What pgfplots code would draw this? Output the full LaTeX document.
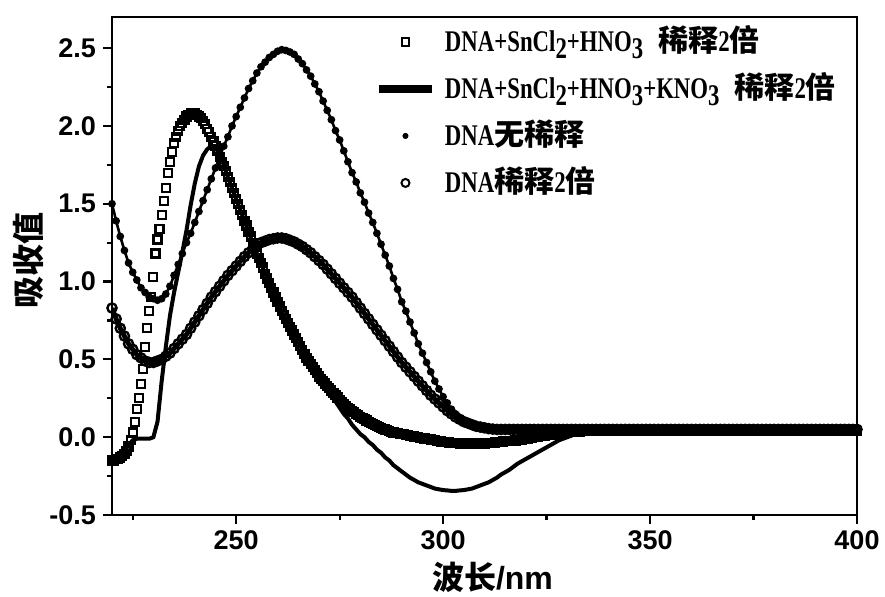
\documentclass[border=0pt]{standalone}
\usepackage{pgfplots}
\pgfplotsset{compat=1.18}
\usepackage{pgfplotstable}
\usepackage{fontspec}
\setmainfont{Liberation Sans}
\newfontfamily\cjk{Noto Sans CJK SC}
\newfontfamily\legfont[FakeStretch=0.76]{Liberation Serif}
\newcommand{\sub}[1]{\raisebox{-0.22em}{#1}}

\pgfplotsset{
  markleg/.style={legend image code/.code={\path (0bp,0bp) (26.5bp,0bp); \path[##1] plot[only marks] coordinates {(13.25bp,0bp)};}},
  lineleg/.style={legend image code/.code={\draw[##1] (0bp,0bp) -- (26.5bp,0bp);}},
}

\pgfplotstableread{
x sq so dn dc
220 -0.15 -0.15 1.50 0.83
221 -0.14 -0.14 1.39 0.76
222 -0.13 -0.12 1.29 0.70
223 -0.11 -0.09 1.20 0.65
224 -0.06 -0.05 1.12 0.60
225 0.03 -0.02 1.06 0.565
226 0.18 -0.01 1.01 0.53
227 0.34 -0.01 0.96 0.51
228 0.58 -0.01 0.93 0.49
229 0.81 -0.01 0.90 0.48
230 1.03 0.00 0.89 0.48
231 1.27 0.10 0.88 0.49
232 1.43 0.36 0.89 0.50
233 1.60 0.58 0.92 0.52
234 1.77 0.78 0.97 0.54
235 1.89 0.93 1.04 0.57
236 1.97 1.06 1.11 0.60
237 2.02 1.19 1.18 0.63
238 2.06 1.33 1.25 0.66
239 2.08 1.49 1.31 0.70
240 2.08 1.63 1.38 0.74
241 2.06 1.74 1.45 0.78
242 2.03 1.81 1.52 0.82
243 1.98 1.85 1.59 0.86
244 1.93 1.87 1.66 0.90
245 1.87 1.86 1.73 0.935
246 1.80 1.82 1.80 0.97
247 1.74 1.75 1.87 1.005
248 1.67 1.67 1.93 1.04
249 1.60 1.60 2.00 1.07
250 1.53 1.53 2.06 1.10
251 1.46 1.46 2.12 1.13
252 1.39 1.39 2.18 1.16
253 1.32 1.32 2.24 1.185
254 1.25 1.25 2.29 1.21
255 1.18 1.18 2.34 1.23
256 1.12 1.12 2.38 1.25
257 1.05 1.05 2.41 1.26
258 0.99 0.99 2.44 1.27
259 0.93 0.93 2.46 1.275
260 0.87 0.87 2.48 1.28
261 0.81 0.81 2.49 1.28
262 0.76 0.76 2.485 1.275
263 0.71 0.71 2.475 1.265
264 0.66 0.66 2.46 1.255
265 0.61 0.61 2.43 1.24
266 0.56 0.56 2.40 1.225
267 0.51 0.51 2.36 1.205
268 0.47 0.47 2.32 1.185
269 0.43 0.43 2.27 1.16
270 0.39 0.39 2.22 1.135
271 0.36 0.35 2.16 1.11
272 0.33 0.31 2.10 1.08
273 0.30 0.27 2.04 1.05
274 0.27 0.23 1.97 1.02
275 0.24 0.19 1.91 0.99
276 0.21 0.15 1.84 0.96
277 0.19 0.12 1.77 0.93
278 0.17 0.08 1.70 0.90
279 0.15 0.05 1.64 0.865
280 0.13 0.02 1.57 0.83
281 0.115 0.00 1.51 0.795
282 0.10 -0.03 1.44 0.76
283 0.085 -0.05 1.38 0.725
284 0.07 -0.08 1.31 0.69
285 0.06 -0.10 1.24 0.655
286 0.05 -0.13 1.17 0.62
287 0.04 -0.15 1.10 0.585
288 0.03 -0.18 1.02 0.55
289 0.025 -0.20 0.95 0.515
290 0.02 -0.22 0.87 0.48
291 0.015 -0.24 0.81 0.45
292 0.01 -0.26 0.74 0.42
293 0.005 -0.275 0.67 0.39
294 0.00 -0.29 0.60 0.36
295 -0.005 -0.30 0.54 0.33
296 -0.01 -0.31 0.48 0.30
297 -0.015 -0.32 0.42 0.27
298 -0.02 -0.33 0.36 0.245
299 -0.025 -0.335 0.31 0.22
300 -0.03 -0.34 0.26 0.195
301 -0.032 -0.342 0.22 0.17
302 -0.035 -0.345 0.18 0.15
303 -0.037 -0.345 0.15 0.13
304 -0.04 -0.342 0.12 0.115
305 -0.04 -0.34 0.10 0.10
306 -0.04 -0.335 0.085 0.09
307 -0.04 -0.33 0.075 0.08
308 -0.04 -0.32 0.065 0.07
309 -0.04 -0.31 0.06 0.065
310 -0.04 -0.30 0.055 0.06
311 -0.038 -0.29 0.052 0.055
312 -0.035 -0.275 0.05 0.052
313 -0.032 -0.26 0.05 0.05
314 -0.03 -0.24 0.05 0.05
315 -0.027 -0.225 0.05 0.05
316 -0.025 -0.21 0.05 0.05
317 -0.022 -0.19 0.05 0.05
318 -0.02 -0.17 0.05 0.05
319 -0.015 -0.155 0.05 0.05
320 -0.01 -0.14 0.05 0.05
321 -0.005 -0.125 0.05 0.05
322 0.00 -0.11 0.05 0.05
323 0.005 -0.095 0.05 0.05
324 0.01 -0.08 0.05 0.05
325 0.012 -0.065 0.05 0.05
326 0.015 -0.05 0.05 0.05
327 0.018 -0.035 0.05 0.05
328 0.02 -0.02 0.05 0.05
329 0.025 -0.01 0.05 0.05
330 0.03 0.00 0.05 0.05
331 0.032 0.01 0.05 0.05
332 0.035 0.02 0.05 0.05
333 0.037 0.03 0.05 0.05
334 0.04 0.035 0.05 0.05
335 0.04 0.04 0.05 0.05
336 0.04 0.045 0.05 0.05
337 0.04 0.045 0.05 0.05
338 0.04 0.045 0.05 0.05
339 0.04 0.045 0.05 0.05
340 0.04 0.045 0.05 0.05
341 0.04 0.045 0.05 0.05
342 0.04 0.045 0.05 0.05
343 0.04 0.045 0.05 0.05
344 0.04 0.045 0.05 0.05
345 0.04 0.045 0.05 0.05
346 0.04 0.045 0.05 0.05
347 0.04 0.045 0.05 0.05
348 0.04 0.045 0.05 0.05
349 0.04 0.045 0.05 0.05
350 0.04 0.045 0.05 0.05
351 0.04 0.045 0.05 0.05
352 0.04 0.045 0.05 0.05
353 0.04 0.045 0.05 0.05
354 0.04 0.045 0.05 0.05
355 0.04 0.045 0.05 0.05
356 0.04 0.045 0.05 0.05
357 0.04 0.045 0.05 0.05
358 0.04 0.045 0.05 0.05
359 0.04 0.045 0.05 0.05
360 0.04 0.045 0.05 0.05
361 0.04 0.045 0.05 0.05
362 0.04 0.045 0.05 0.05
363 0.04 0.045 0.05 0.05
364 0.04 0.045 0.05 0.05
365 0.04 0.045 0.05 0.05
366 0.04 0.045 0.05 0.05
367 0.04 0.045 0.05 0.05
368 0.04 0.045 0.05 0.05
369 0.04 0.045 0.05 0.05
370 0.04 0.045 0.05 0.05
371 0.04 0.045 0.05 0.05
372 0.04 0.045 0.05 0.05
373 0.04 0.045 0.05 0.05
374 0.04 0.045 0.05 0.05
375 0.04 0.045 0.05 0.05
376 0.04 0.045 0.05 0.05
377 0.04 0.045 0.05 0.05
378 0.04 0.045 0.05 0.05
379 0.04 0.045 0.05 0.05
380 0.04 0.045 0.05 0.05
381 0.04 0.045 0.05 0.05
382 0.04 0.045 0.05 0.05
383 0.04 0.045 0.05 0.05
384 0.04 0.045 0.05 0.05
385 0.04 0.045 0.05 0.05
386 0.04 0.045 0.05 0.05
387 0.04 0.045 0.05 0.05
388 0.04 0.045 0.05 0.05
389 0.04 0.045 0.05 0.05
390 0.04 0.045 0.05 0.05
391 0.04 0.045 0.05 0.05
392 0.04 0.045 0.05 0.05
393 0.04 0.045 0.05 0.05
394 0.04 0.045 0.05 0.05
395 0.04 0.045 0.05 0.05
396 0.04 0.045 0.05 0.05
397 0.04 0.045 0.05 0.05
398 0.04 0.045 0.05 0.05
399 0.04 0.045 0.05 0.05
400 0.04 0.045 0.05 0.05
}\maindata

\pgfplotstableread{
x y
220.5 -0.15
221.5 -0.14
222.5 -0.12
223.5 -0.09
224.5 -0.02
225.5 0.10
226.5 0.25
227.5 0.44
228.5 0.70
229.5 0.90
230.5 1.18
231.5 1.34
232.5 1.52
233.5 1.70
234.5 1.83
235.5 1.93
236.5 2.00
237.5 2.04
238.5 2.07
239.5 2.08
240.5 2.07
241.5 2.05
242.5 2.01
243.5 1.96
244.5 1.90
245.5 1.84
246.5 1.77
247.5 1.71
248.5 1.64
249.5 1.57
250.5 1.50
251.5 1.43
252.5 1.36
253.5 1.29
254.5 1.22
255.5 1.15
256.5 1.09
257.5 1.02
258.5 0.96
259.5 0.90
260.5 0.84
261.5 0.785
262.5 0.735
263.5 0.685
264.5 0.635
265.5 0.585
266.5 0.535
267.5 0.49
268.5 0.45
269.5 0.41
270.5 0.375
271.5 0.345
272.5 0.315
273.5 0.285
274.5 0.255
275.5 0.225
276.5 0.20
277.5 0.18
278.5 0.16
279.5 0.14
280.5 0.122
281.5 0.107
282.5 0.092
283.5 0.078
284.5 0.065
285.5 0.055
286.5 0.045
287.5 0.035
288.5 0.028
289.5 0.022
290.5 0.018
291.5 0.012
292.5 0.008
293.5 0.002
294.5 -0.003
295.5 -0.008
296.5 -0.013
297.5 -0.018
298.5 -0.023
299.5 -0.028
300.5 -0.031
301.5 -0.034
302.5 -0.036
303.5 -0.039
304.5 -0.04
305.5 -0.04
306.5 -0.04
307.5 -0.04
308.5 -0.04
309.5 -0.04
310.5 -0.039
311.5 -0.037
312.5 -0.034
313.5 -0.031
314.5 -0.028
315.5 -0.026
316.5 -0.023
317.5 -0.021
318.5 -0.018
319.5 -0.012
320.5 -0.008
321.5 -0.003
322.5 0.003
323.5 0.008
324.5 0.011
325.5 0.014
326.5 0.017
327.5 0.019
328.5 0.023
329.5 0.028
330.5 0.031
331.5 0.034
332.5 0.036
333.5 0.039
334.5 0.04
335.5 0.04
}\sqhalf

\begin{document}
\begin{tikzpicture}
\begin{axis}[
  at={(0,0)}, anchor=south west,
  scale only axis, width=372.5bp, height=249bp,
  xmin=220, xmax=400, ymin=-0.5, ymax=2.7,
  xtick={250,300,350,400}, minor xtick={225,275,325,375},
  ytick={-0.5,0,0.5,1,1.5,2,2.5}, minor ytick={-0.25,0.25,...,2.25},
  xtick pos=bottom, ytick pos=left,
  tick align=outside,
  major tick length=4.5bp, minor tick length=2.5bp,
  axis line style={line width=1.2bp},
  tick style={line width=1.1bp, black},
  /pgf/number format/assume math mode=true,
  ticklabel style={font=\fontsize{13.5bp}{15bp}\selectfont\bfseries},
  y tick label style={/pgf/number format/fixed, /pgf/number format/fixed zerofill, /pgf/number format/precision=1},
  xlabel={{\cjk 波长}/nm},
  ylabel={\cjk 吸收值},
  xlabel style={font=\fontsize{16bp}{18bp}\selectfont\bfseries, at={(axis description cs:0.5107,-0.1245)}, anchor=center},
  ylabel style={font=\fontsize{16bp}{18bp}\selectfont\bfseries, at={(axis description cs:-0.1128,0.512)}, anchor=center},
  legend cell align=left,
  legend style={draw=none, fill=none, at={(0.353,0.97)}, anchor=north west,
    inner sep=0pt, outer sep=0pt, row sep=13.5bp, column sep=4.5bp,
    nodes={inner sep=0pt, text height=10bp, text depth=0pt,
      font=\legfont\bfseries\fontsize{15bp}{16bp}\selectfont}},
]
\addplot[forget plot, black, line width=2.4bp, mark=o, mark size=2.3bp, mark options={line width=1.2bp, black}] table[x=x, y=dc]{\maindata};
\addplot[forget plot, black, line width=1.3bp, mark=*, mark size=1.25bp] table[x=x, y=dn]{\maindata};
\addplot[forget plot, black, line width=2bp, no marks] table[x=x, y=so]{\maindata};
\addplot[forget plot, only marks, mark=square, mark size=2bp, mark options={line width=1.1bp, black}] table[x=x, y=sq]{\maindata};
\addplot[forget plot, only marks, mark=square, mark size=2bp, mark options={line width=1.1bp, black}] table[x=x, y=y]{\sqhalf};

\addlegendimage{markleg, mark=square, mark size=1.8bp, mark options={line width=1bp, black}}
\addlegendentry{DNA+SnCl\sub{2}+HNO\sub{3}\hspace{0.5em}{\cjk 稀释}2{\cjk 倍}}
\addlegendimage{lineleg, black, line width=4bp}
\addlegendentry{DNA+SnCl\sub{2}+HNO\sub{3}+KNO\sub{3}\hspace{0.5em}{\cjk 稀释}2{\cjk 倍}}
\addlegendimage{markleg, mark=*, mark size=1.3bp, black}
\addlegendentry{DNA{\cjk 无稀释}}
\addlegendimage{markleg, mark=o, mark size=2bp, mark options={line width=1bp, black}}
\addlegendentry{DNA{\cjk 稀释}2{\cjk 倍}}
\end{axis}
\pgfresetboundingbox
\path[use as bounding box] (-56bp,-41bp) rectangle (386.5bp,257.5bp);
\end{tikzpicture}
\end{document}
